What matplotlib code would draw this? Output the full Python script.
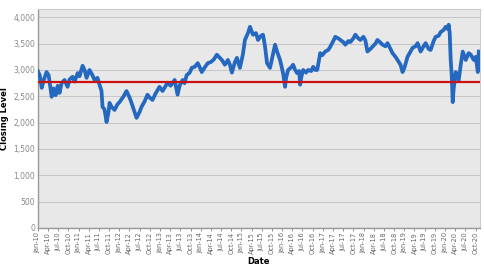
import pandas as pd
import matplotlib
matplotlib.use("Agg")
import matplotlib.pyplot as plt
import matplotlib.dates as mdates
from matplotlib.ticker import FuncFormatter

# closing levels
dates = [
    "2010-01-01", "2010-01-18", "2010-02-05", "2010-02-22", "2010-03-20", "2010-04-08",
    "2010-05-05", "2010-05-22", "2010-06-10", "2010-06-28", "2010-07-15", "2010-08-02",
    "2010-08-28", "2010-09-25", "2010-10-12", "2010-11-08", "2010-11-27", "2010-12-24",
    "2011-01-10", "2011-02-06", "2011-02-24", "2011-03-14", "2011-04-09", "2011-05-06",
    "2011-05-24", "2011-06-20", "2011-07-08", "2011-07-26", "2011-08-04", "2011-08-22",
    "2011-09-09", "2011-09-27", "2011-10-06", "2011-10-24", "2011-11-20", "2011-12-17",
    "2012-01-04", "2012-02-09", "2012-03-06", "2012-04-02", "2012-04-20", "2012-05-17",
    "2012-06-04", "2012-07-01", "2012-07-19", "2012-08-15", "2012-09-10", "2012-09-28",
    "2012-10-25", "2012-11-21", "2012-12-27", "2013-01-23", "2013-02-10", "2013-03-09",
    "2013-04-05", "2013-05-12", "2013-06-07", "2013-06-25", "2013-07-22", "2013-08-09",
    "2013-08-27", "2013-09-24", "2013-10-12", "2013-11-08", "2013-12-05", "2013-12-23",
    "2014-01-10", "2014-02-06", "2014-03-05", "2014-04-01", "2014-04-28", "2014-05-25",
    "2014-06-21", "2014-07-09", "2014-08-05", "2014-09-01", "2014-09-19", "2014-10-07",
    "2014-11-03", "2014-11-21", "2014-12-18", "2015-01-14", "2015-02-01", "2015-02-28",
    "2015-03-18", "2015-04-14", "2015-05-11", "2015-05-29", "2015-06-25", "2015-07-13",
    "2015-07-31", "2015-08-18", "2015-09-14", "2015-10-11", "2015-10-29", "2015-11-16",
    "2015-12-13", "2016-01-09", "2016-01-27", "2016-02-05", "2016-02-23", "2016-03-21",
    "2016-04-08", "2016-04-26", "2016-05-14", "2016-06-01", "2016-06-10", "2016-06-19",
    "2016-07-07", "2016-08-03", "2016-08-21", "2016-09-17", "2016-10-05", "2016-10-23",
    "2016-11-10", "2016-12-07", "2016-12-25", "2017-01-21", "2017-02-17", "2017-03-07",
    "2017-04-03", "2017-04-21", "2017-05-18", "2017-06-05", "2017-07-02", "2017-07-20",
    "2017-08-16", "2017-09-03", "2017-09-30", "2017-10-18", "2017-11-14", "2017-12-02",
    "2017-12-29", "2018-01-16", "2018-02-03", "2018-03-02", "2018-03-20", "2018-04-16",
    "2018-05-04", "2018-05-31", "2018-06-18", "2018-07-15", "2018-08-02", "2018-08-29",
    "2018-09-16", "2018-10-13", "2018-10-31", "2018-11-27", "2018-12-15", "2019-01-02",
    "2019-01-29", "2019-02-25", "2019-03-15", "2019-04-11", "2019-04-29", "2019-05-26",
    "2019-06-22", "2019-07-10", "2019-08-06", "2019-08-24", "2019-09-20", "2019-10-08",
    "2019-11-04", "2019-11-22", "2019-12-19", "2020-01-06", "2020-01-24", "2020-02-02",
    "2020-02-11", "2020-02-20", "2020-02-29", "2020-03-09", "2020-03-18", "2020-04-05",
    "2020-05-02", "2020-05-20", "2020-06-07", "2020-07-04", "2020-07-30", "2020-08-18",
    "2020-09-14", "2020-10-02", "2020-10-20", "2020-10-29",
]
closing = [
    2980, 2900, 2660, 2800, 2960, 2900,
    2490, 2650, 2520, 2700, 2565, 2750,
    2810, 2680, 2820, 2870, 2780, 2940,
    2880, 3080, 3000, 2850, 3000, 2900,
    2810, 2850, 2720, 2600, 2300, 2250,
    2010, 2200, 2375, 2300, 2240, 2350,
    2390, 2500, 2600, 2480, 2375, 2200,
    2090, 2200, 2300, 2400, 2530, 2480,
    2430, 2550, 2680, 2600, 2660, 2760,
    2700, 2810, 2530, 2700, 2810, 2750,
    2900, 2950, 3040, 3060, 3130, 3050,
    2960, 3050, 3130, 3150, 3200, 3290,
    3230, 3190, 3100, 3190, 3100, 2950,
    3150, 3230, 3040, 3300, 3570, 3700,
    3820, 3670, 3700, 3570, 3650, 3670,
    3450, 3130, 3040, 3300, 3480, 3350,
    3190, 2940, 2680, 2850, 3000, 3050,
    3100, 3000, 2940, 2980, 2720, 2850,
    3000, 2950, 3000, 2980, 3060, 3000,
    3000, 3320, 3280, 3350, 3380, 3440,
    3550, 3630, 3600, 3570, 3530, 3480,
    3550, 3530, 3600, 3670, 3600, 3570,
    3630, 3560, 3350, 3400, 3440, 3500,
    3570, 3520, 3480, 3450, 3510, 3400,
    3320, 3250, 3190, 3100, 2960, 3050,
    3250, 3350, 3420, 3450, 3510, 3350,
    3450, 3510, 3400, 3380, 3550, 3630,
    3650, 3720, 3760, 3820, 3780, 3860,
    3700, 3190, 2900, 2390, 2650, 2960,
    2810, 3100, 3350, 3190, 3320, 3290,
    3190, 3250, 2960, 3350,
]
average_level = 2780

x = pd.to_datetime(dates)

fig = plt.figure(figsize=(4.85, 2.70), dpi=100)
ax = fig.add_axes([0.078, 0.156, 0.912, 0.811])
ax.set_facecolor("#e8e8e8")

ax.plot(x, closing, color="#2468c0", lw=2.7, solid_joinstyle="round", zorder=3)
ax.axhline(average_level, color="#cc1111", lw=1.6, zorder=4)

ax.set_ylim(0, 4160)
ax.set_xlim(pd.Timestamp("2010-01-01"), pd.Timestamp("2020-11-10"))
ax.set_yticks(range(0, 4001, 500))
ax.yaxis.set_major_formatter(FuncFormatter(lambda v, p: f"{int(v):,}"))
ax.grid(axis="y", color="#c8c8c8", lw=0.8)
ax.set_axisbelow(True)

ax.xaxis.set_major_locator(mdates.MonthLocator(bymonth=[1, 4, 7, 10]))
ax.xaxis.set_major_formatter(mdates.DateFormatter("%b-%y"))
plt.setp(ax.get_xticklabels(), rotation=90)
ax.tick_params(axis="x", labelsize=4.8, colors="#666666", length=2, width=0.5, pad=1)
ax.tick_params(axis="y", labelsize=5.5, colors="#888888", length=0, pad=2)

for side in ["top", "right"]:
    ax.spines[side].set_color("#cccccc")
    ax.spines[side].set_linewidth(0.8)
for side in ["left", "bottom"]:
    ax.spines[side].set_color("#999999")
    ax.spines[side].set_linewidth(1.0)

ax.set_xlabel("Date", fontsize=6, fontweight="bold", labelpad=2)
ax.set_ylabel("Closing Level", fontsize=6, fontweight="bold", labelpad=3)

fig.savefig("out.png", dpi=100)
